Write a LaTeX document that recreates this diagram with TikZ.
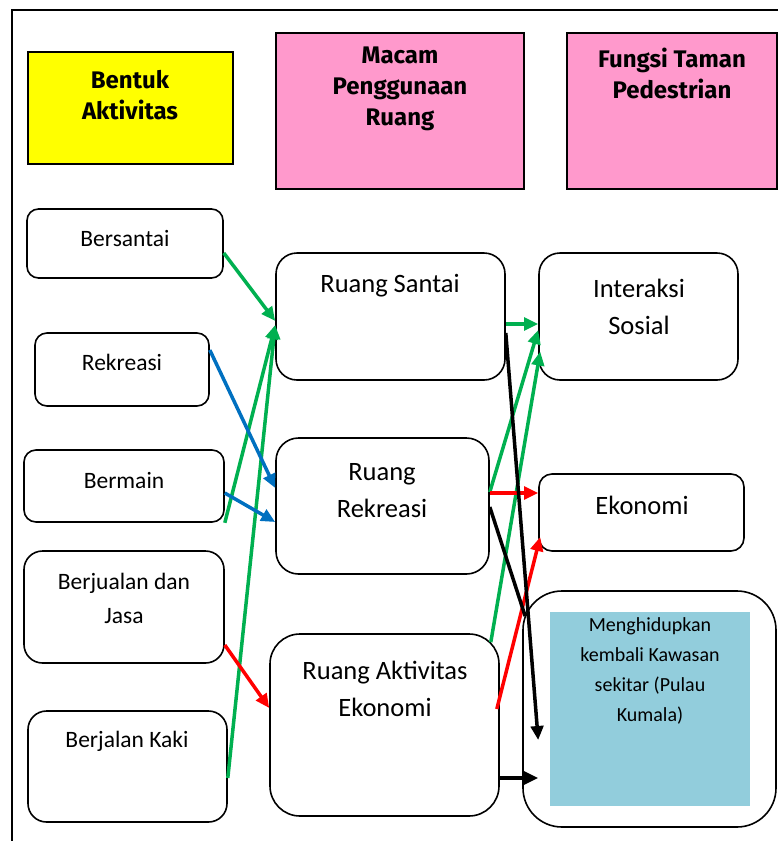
\documentclass[tikz,border=0pt]{standalone}
\usepackage{fontspec}
\setmainfont{Carlito}
\newfontfamily\headfont{Fira Sans}
\usetikzlibrary{arrows.meta}
\definecolor{kuning}{HTML}{FFFF00}
\definecolor{merahmuda}{HTML}{FF99CC}
\definecolor{birumuda}{HTML}{92CDDC}
\definecolor{hijau}{HTML}{00B050}
\definecolor{biru}{HTML}{0070C0}
\definecolor{merah}{HTML}{FF0000}
\tikzset{
  kotak/.style={draw, line width=1.6pt, rounded corners=#1, fill=white},
  judul/.style={draw, line width=1.8pt, fill=#1},
  teks/.style={align=center, font=\fontsize{23.5}{34}\selectfont},
  teksbesar/.style={align=center, font=\fontsize{26.5}{37}\selectfont},
  tekskecil/.style={align=center, font=\fontsize{20}{30}\selectfont},
  teksjudul/.style={align=center, font=\headfont\bfseries\fontsize{24}{31}\selectfont},
  panah/.style={line width=3.5pt, draw=#1, -{Triangle[length=14pt,width=12.5pt]}}
}
\begin{document}
\begin{tikzpicture}[x=1pt,y=-1pt]
      \useasboundingbox (0,0) rectangle (778,841);
      \draw[line width=2pt] (12,841) -- (12,10) -- (778,10);
      % judul kolom
      \node[judul=kuning, minimum width=205pt, minimum height=112pt] (bentuk) at (130.5,108) {};
      \node[judul=merahmuda, minimum width=248pt, minimum height=156pt] (macam) at (400,111) {};
      \node[judul=merahmuda, minimum width=210pt, minimum height=156pt] (fungsi) at (672,111) {};
      \node[teksjudul] (bentukT) at (130,95.5) {Bentuk\\Aktivitas};
      \node[teksjudul] (macamT) at (400,89) {Macam\\Penggunaan\\Ruang};
      \node[teksjudul] (fungsiT) at (672,73.5) {Fungsi Taman\\Pedestrian};
      % bentuk aktivitas
      \node[kotak=11.5pt, minimum width=196pt, minimum height=69pt] (bersantai) at (125,243.5) {};
      \node[kotak=12pt, minimum width=174pt, minimum height=73pt] (rekreasi) at (122,369.5) {};
      \node[kotak=12pt, minimum width=200pt, minimum height=72pt] (bermain) at (124,486) {};
      \node[kotak=18.5pt, minimum width=200pt, minimum height=112pt] (jualan) at (124,607) {};
      \node[kotak=18.5pt, minimum width=199pt, minimum height=111pt] (jalan) at (127.5,766.5) {};
      \node[teks] (bersantaiT) at (125,238) {Bersantai};
      \node[teks] (rekreasiT) at (122,362) {Rekreasi};
      \node[teks] (bermainT) at (124,480) {Bermain};
      \node[teks] (jualanT) at (124,598) {Berjualan dan\\Jasa};
      \node[teks] (jalanT) at (127,741) {Berjalan Kaki};
      % macam penggunaan ruang
      \node[kotak=21pt, minimum width=229pt, minimum height=127pt] (santai) at (390.5,316.5) {};
      \node[kotak=22.5pt, minimum width=213pt, minimum height=136pt] (ruangrek) at (382.5,506) {};
      \node[kotak=30pt, minimum width=229pt, minimum height=182pt] (ruangeko) at (384.5,725) {};
      \node[teksbesar] (santaiT) at (390,286) {Ruang Santai};
      \node[teksbesar] (ruangrekT) at (382,491) {Ruang\\Rekreasi};
      \node[teksbesar] (ruangekoT) at (385,689) {Ruang Aktivitas\\Ekonomi};
      % fungsi taman pedestrian
      \node[kotak=21pt, minimum width=199pt, minimum height=127pt] (sosial) at (638.5,316.5) {};
      \node[kotak=13pt, minimum width=205pt, minimum height=77pt] (ekonomi) at (641.5,512.5) {};
      \node[kotak=39pt, minimum width=253pt, minimum height=236pt] (kawasan) at (649.5,709) {};
      \node[fill=birumuda, minimum width=200pt, minimum height=194pt] (kawasanIsi) at (650,709) {};
      \node[teksbesar] (sosialT) at (639,306.5) {Interaksi\\Sosial};
      \node[teksbesar] (ekonomiT) at (642,505) {Ekonomi};
      \node[tekskecil] (kawasanT) at (650,670.5) {Menghidupkan\\kembali Kawasan\\sekitar (Pulau\\Kumala)};
      % panah
      \draw[panah=hijau] ([yshift=-9.5pt]bersantai.east) -- ([yshift=-4.5pt]santai.west);
      \draw[panah=hijau] (bermain.south east) -- ([yshift=-8.5pt]santai.west);
      \draw[panah=hijau] ([yshift=-11.5pt]jalan.east) -- ([yshift=-8.5pt]santai.west);
      \draw[panah=biru] ([yshift=19.5pt]rekreasi.east) -- ([yshift=18pt]ruangrek.west);
      \draw[panah=biru] ([yshift=-7pt]bermain.east) -- ([yshift=-16pt]ruangrek.west);
      \draw[panah=merah] ([yshift=-38pt]jualan.east) -- ([yshift=17pt]ruangeko.west);
      \draw[panah=hijau] ([yshift=-7.5pt]santai.east) -- ([yshift=-7.5pt]sosial.west);
      \draw[panah=hijau] ([yshift=14pt]ruangrek.east) -- ([yshift=-13.5pt]sosial.west);
      \draw[panah=hijau] ([xshift=-9pt,yshift=-9pt]ruangeko.north east) -- ([xshift=2pt,yshift=-35pt]sosial.west);
      \draw[panah=merah] ([yshift=13pt]ruangrek.east) -- ([yshift=19.5pt]ekonomi.west);
      \draw[panah=merah] ([xshift=-3pt,yshift=16pt]ruangeko.east) -- ([xshift=2pt,yshift=-24.5pt]ekonomi.west);
      \draw[panah=black] ([yshift=-16.5pt]santai.east) -- ([xshift=16pt,yshift=-31pt]kawasan.west);
      \draw[line width=3.5pt] ([yshift=-1pt]ruangrek.east) -- ([xshift=3pt,yshift=-26pt]kawasan.north west);
      \draw[panah=black] ([yshift=-53pt]ruangeko.east) -- ([xshift=16pt,yshift=-69pt]kawasan.west);
\end{tikzpicture}
\end{document}
